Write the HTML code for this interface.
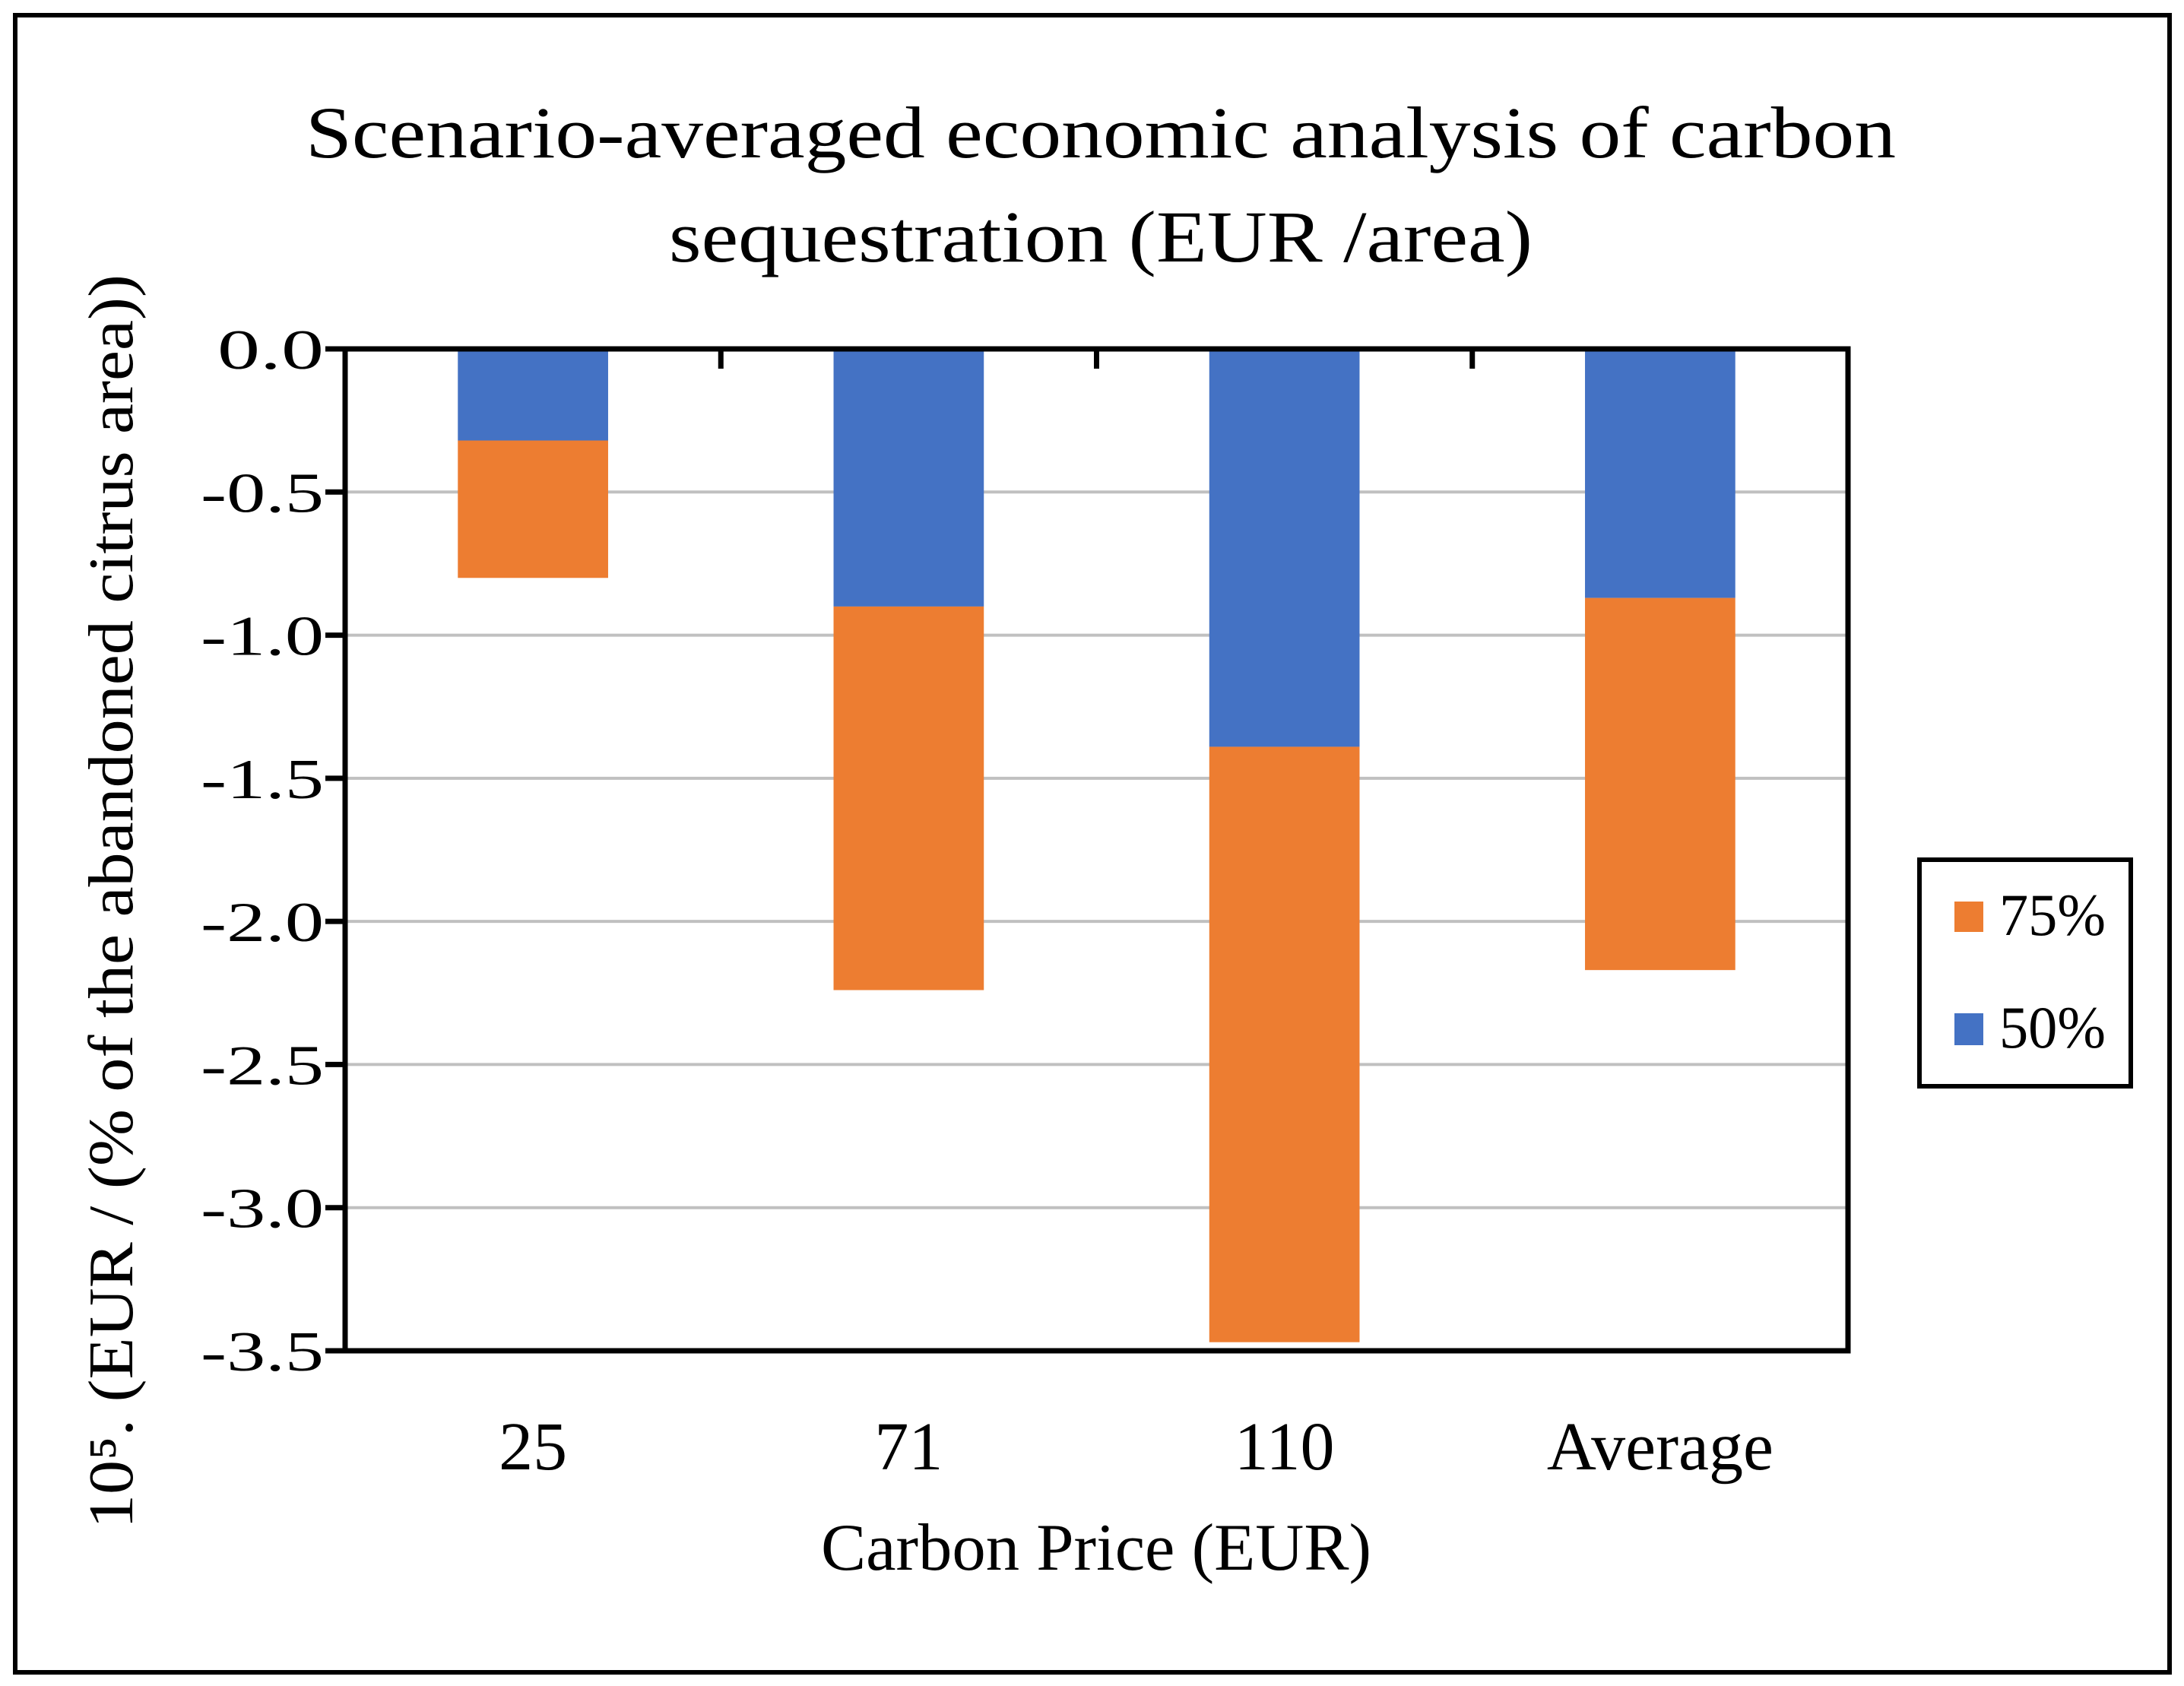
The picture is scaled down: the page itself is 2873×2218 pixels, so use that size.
<!DOCTYPE html>
<html><head><meta charset="utf-8"><style>
html,body{margin:0;padding:0;background:#fff}
svg{display:block;font-family:"Liberation Serif",serif}
</style></head><body>
<svg id="chart" width="2873" height="2218" viewBox="0 0 2873 2218" xmlns="http://www.w3.org/2000/svg">
<rect x="20" y="20" width="2834" height="2180" fill="#fff" stroke="#000" stroke-width="6"/>
<text x="1448" y="207" font-size="96" text-anchor="middle" textLength="2092" lengthAdjust="spacingAndGlyphs">Scenario-averaged economic analysis of carbon</text>
<text x="1448" y="344" font-size="96" text-anchor="middle" textLength="1136" lengthAdjust="spacingAndGlyphs">sequestration (EUR /area)</text>
<g id="grid"></g>
<g id="bars"></g>
<g id="axes"></g>
<text transform="translate(174,1186) rotate(-90)" font-size="84" text-anchor="middle" textLength="1650" lengthAdjust="spacingAndGlyphs">10⁵. (EUR /  (% of the abandoned citrus area))</text>
<text x="1442" y="2065" font-size="88" text-anchor="middle" textLength="724" lengthAdjust="spacingAndGlyphs">Carbon Price (EUR)</text>
<g>
<rect x="2525" y="1131" width="278" height="298" fill="#fff" stroke="#000" stroke-width="6"/>
<rect x="2571" y="1186" width="38" height="40" fill="#ED7D31"/>
<text x="2630" y="1230" font-size="78" textLength="140" lengthAdjust="spacingAndGlyphs">75%</text>
<rect x="2571" y="1333" width="38" height="42" fill="#4472C4"/>
<text x="2630" y="1378" font-size="78" textLength="140" lengthAdjust="spacingAndGlyphs">50%</text>
</g>
</svg>
<script>
const categories = ["25", "71", "110", "Average"];
const series50 = [-0.32, -0.90, -1.39, -0.87];
const series75 = [-0.48, -1.34, -2.08, -1.30];
const yTicks = [0, -0.5, -1.0, -1.5, -2.0, -2.5, -3.0, -3.5];
const yTickLabels = ["0.0", "-0.5", "-1.0", "-1.5", "-2.0", "-2.5", "-3.0", "-3.5"];

const NS = "http://www.w3.org/2000/svg";
const L = 454, R = 2431, T = 459, B = 1777;
const yMin = -3.5, yMax = 0;
function y(v){ return T + (yMax - v) / (yMax - yMin) * (B - T); }
const bandW = (R - L) / categories.length;
function xc(i){ return L + bandW * (i + 0.5); }
const barW = bandW * 0.4;
function mk(tag, attrs, parent){ const e = document.createElementNS(NS, tag); for (const k in attrs) e.setAttribute(k, attrs[k]); parent.appendChild(e); return e; }
const grid = document.getElementById('grid'), bars = document.getElementById('bars'), axes = document.getElementById('axes');

yTicks.forEach((v, i) => {
  if (v !== 0 && v !== yMin) {
    const g = mk('line', {x1: L, x2: R, y1: y(v), y2: y(v), stroke: '#c0c0c0', 'stroke-width': 4}, grid);
    
    
  }
  const t = mk('line', {x1: L - 26, x2: L, y1: y(v), y2: y(v), stroke: '#000', 'stroke-width': 7}, axes);
  
  
  const lb = mk('text', {x: L - 28, y: y(v) + 26, 'font-size': 74, 'text-anchor': 'end'}, axes);
  lb.textContent = yTickLabels[i];
  lb.setAttribute('textLength', v === 0 ? 140 : 162);
  lb.setAttribute('lengthAdjust', 'spacingAndGlyphs');
  
  
});

categories.forEach((c, i) => {
  const x0 = xc(i) - barW / 2;
  const b1 = mk('rect', {x: x0, y: y(0), width: barW, height: y(series50[i]) - y(0), fill: '#4472C4'}, bars);
  
  
  const top2 = series50[i], bot2 = series50[i] + series75[i];
  const b2 = mk('rect', {x: x0, y: y(top2), width: barW, height: y(bot2) - y(top2), fill: '#ED7D31'}, bars);
  
  
  const lb = mk('text', {x: xc(i), y: 1933, 'font-size': 90, 'text-anchor': 'middle'}, axes);
  lb.textContent = c;
  
  
  if (i > 0) {
    const tk = mk('line', {x1: L + bandW * i, x2: L + bandW * i, y1: T, y2: T + 26, stroke: '#000', 'stroke-width': 7}, axes);
    
    
  }
});

const frame = mk('rect', {x: L, y: T, width: R - L, height: B - T, fill: 'none', stroke: '#000', 'stroke-width': 7}, axes);


</script>
</body></html>
